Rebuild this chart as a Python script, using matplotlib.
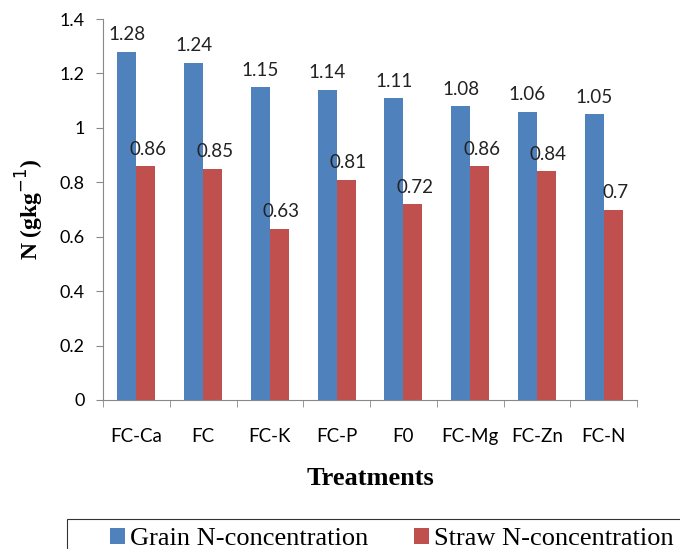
import numpy as np
import matplotlib
matplotlib.use("Agg")
import matplotlib.pyplot as plt
from matplotlib.patches import Rectangle

# N concentration by treatment
treatments = ["FC-Ca", "FC", "FC-K", "FC-P", "F0", "FC-Mg", "FC-Zn", "FC-N"]
grain_n = [1.28, 1.24, 1.15, 1.14, 1.11, 1.08, 1.06, 1.05]
straw_n = [0.86, 0.85, 0.63, 0.81, 0.72, 0.86, 0.84, 0.70]
grain_labels = ["1.28", "1.24", "1.15", "1.14", "1.11", "1.08", "1.06", "1.05"]
straw_labels = ["0.86", "0.85", "0.63", "0.81", "0.72", "0.86", "0.84", "0.7"]

BLUE = "#4F81BD"
RED = "#C0504D"
SANS = "Lato"
SERIF = "Liberation Serif"

fig = plt.figure(figsize=(6.8, 5.49), dpi=100)
ax = fig.add_axes([103 / 680, 1 - 400 / 549, (637 - 103) / 680, (400 - 19) / 549])

x = np.arange(len(treatments))
w = 0.285
b1 = ax.bar(x - w / 2, grain_n, w, color=BLUE, label="Grain N-concentration")
b2 = ax.bar(x + w / 2, straw_n, w, color=RED, label="Straw N-concentration")

for rect, lab in zip(b1, grain_labels):
    ax.annotate(lab, (rect.get_x() + rect.get_width() / 2, rect.get_height()),
                xytext=(0, 6), textcoords="offset points", ha="center", va="bottom",
                fontsize=13.5, family=SANS, color="#222222")
for rect, lab in zip(b2, straw_labels):
    ax.annotate(lab, (rect.get_x() + rect.get_width() / 2 + 0.03, rect.get_height()),
                xytext=(0, 6), textcoords="offset points", ha="center", va="bottom",
                fontsize=13.5, family=SANS, color="#222222")

ax.set_xlim(-0.5, len(treatments) - 0.5)
ax.set_ylim(0, 1.4)
ax.set_yticks(np.arange(0, 1.41, 0.2))
ax.set_yticklabels(["0", "0.2", "0.4", "0.6", "0.8", "1", "1.2", "1.4"],
                   fontsize=13, family=SANS)
ax.set_xticks(x)
ax.set_xticklabels(treatments, fontsize=13.5, family=SANS)
ax.set_xticks(np.arange(-0.5, len(treatments)), minor=True)
ax.tick_params(axis="x", which="major", length=0, pad=20)
ax.tick_params(axis="x", which="minor", length=5, color="#888888")
ax.tick_params(axis="y", length=5, color="#888888", pad=8)

for s in ["top", "right"]:
    ax.spines[s].set_visible(False)
for s in ["left", "bottom"]:
    ax.spines[s].set_color("#888888")

ax.set_ylabel("N (gkg$^{-1}$)", fontsize=17, family=SERIF, fontweight="bold", labelpad=10)
ax.set_xlabel("Treatments", fontsize=19, family=SERIF, fontweight="bold", labelpad=16)

# legend box runs past the right edge of the figure
fig.patches.append(Rectangle((67 / 680, -0.1), 0.99, 0.1 + (549 - 519) / 549,
                             transform=fig.transFigure, fill=False,
                             edgecolor="#333333", linewidth=0.8))
leg = fig.legend(handles=[b1, b2], loc="center left", ncol=2,
                 bbox_to_anchor=(110 / 680, 1 - 539 / 549),
                 prop={"family": SERIF, "size": 19}, frameon=False,
                 handlelength=0.55, handleheight=0.55, handletextpad=0.2,
                 columnspacing=1.75, borderpad=0, borderaxespad=0)

fig.savefig("out.png", dpi=100)
